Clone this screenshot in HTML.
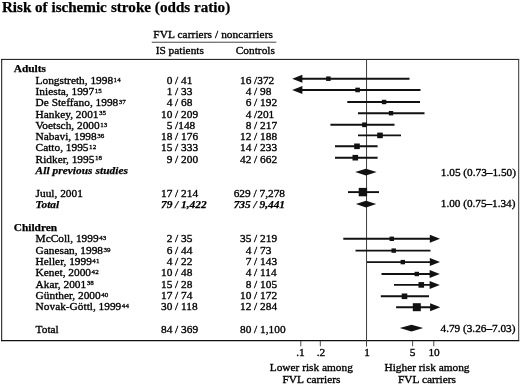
<!DOCTYPE html>
<html lang="en"><head><meta charset="utf-8"><title>Risk of ischemic stroke (odds ratio)</title>
<style>html,body{margin:0;padding:0;background:#fff}svg{display:block;filter:grayscale(1) blur(0.3px)}text{font-family:"Liberation Serif","DejaVu Serif",serif;fill:#000;stroke:#000;stroke-width:0.34px}.b{font-weight:bold;stroke-width:0.25px}.i{font-style:italic}.s{font-size:7px;letter-spacing:0.1px;stroke-width:0.3px}</style></head><body>
<svg width="520" height="384" viewBox="0 0 520 384">
<rect width="520" height="384" fill="#fff"/>
<text y="11.9" class="b" font-size="15.1"><tspan x="1.9" textLength="104.9" lengthAdjust="spacing">Risk of ischemic</tspan><tspan x="110.9" textLength="119.3" lengthAdjust="spacing">stroke (odds ratio)</tspan></text>
<text x="153.3" y="37.6" font-size="11.35" textLength="119.6" lengthAdjust="spacing">FVL carriers / noncarriers</text>
<line x1="151.8" y1="42.25" x2="276.3" y2="42.2" stroke="#333" stroke-width="0.9"/>
<text x="155.7" y="54" font-size="11.35">IS patients</text>
<text x="235.8" y="54" font-size="11.35">Controls</text>
<line x1="1.2" y1="59.4" x2="519.2" y2="59.4" stroke="#111" stroke-width="1"/>
<line x1="1.2" y1="340.7" x2="519.2" y2="340.7" stroke="#111" stroke-width="1.2"/>
<line x1="1.7" y1="59" x2="1.7" y2="341.2" stroke="#111" stroke-width="1"/>
<line x1="518.7" y1="59" x2="518.7" y2="341.2" stroke="#333" stroke-width="1"/>
<line x1="366.55" y1="59.6" x2="366.55" y2="346.5" stroke="#3c3c3c" stroke-width="1"/>
<line x1="300.8" y1="341" x2="300.8" y2="346.3" stroke="#222" stroke-width="0.8"/>
<line x1="320.3" y1="341" x2="320.3" y2="346.3" stroke="#222" stroke-width="0.8"/>
<line x1="412.6" y1="341" x2="412.6" y2="346.3" stroke="#222" stroke-width="0.8"/>
<line x1="433.8" y1="341" x2="433.8" y2="346.3" stroke="#222" stroke-width="0.8"/>
<text x="13.8" y="72.4" class="b" font-size="11.35">Adults</text>
<text x="13.8" y="230.9" class="b" font-size="11.35">Children</text>
<text x="35.6" y="174.0" class="b i" font-size="11.35" textLength="92.3" lengthAdjust="spacing">All previous studies</text>
<text x="35.6" y="207.5" class="b i" font-size="11.35">Total</text>
<text x="172.3" y="207.5" class="b i" font-size="11.35" text-anchor="end">79</text>
<text x="175.1" y="207.5" class="b i" font-size="11.35">/ 1,422</text>
<text x="250.70000000000002" y="207.5" class="b i" font-size="11.35" text-anchor="end">735</text>
<text x="253.5" y="207.5" class="b i" font-size="11.35">/ 9,441</text>
<text x="35.6" y="83.7" font-size="11.35">Longstreth, 1998<tspan class="s" dx="0.5" dy="-2.1">14</tspan></text>
<text x="172.3" y="83.7" font-size="11.35" text-anchor="end">0</text>
<text x="175.1" y="83.7" font-size="11.35">/ 41</text>
<text x="251.3" y="83.7" font-size="11.35" text-anchor="end">16</text>
<text x="254.1" y="83.7" font-size="11.35">/372</text>
<text x="35.6" y="95.1" font-size="11.35">Iniesta, 1997<tspan class="s" dx="0.5" dy="-2.1">15</tspan></text>
<text x="172.3" y="95.1" font-size="11.35" text-anchor="end">1</text>
<text x="175.1" y="95.1" font-size="11.35">/ 33</text>
<text x="251.3" y="95.1" font-size="11.35" text-anchor="end">4</text>
<text x="254.1" y="95.1" font-size="11.35">/ 98</text>
<text x="35.6" y="106.2" font-size="11.35">De Steffano, 1998<tspan class="s" dx="0.5" dy="-2.1">37</tspan></text>
<text x="172.3" y="106.2" font-size="11.35" text-anchor="end">4</text>
<text x="175.1" y="106.2" font-size="11.35">/ 68</text>
<text x="251.3" y="106.2" font-size="11.35" text-anchor="end">6</text>
<text x="254.1" y="106.2" font-size="11.35">/ 192</text>
<text x="35.6" y="117.5" font-size="11.35">Hankey, 2001<tspan class="s" dx="0.5" dy="-2.1">35</tspan></text>
<text x="172.3" y="117.5" font-size="11.35" text-anchor="end">10</text>
<text x="175.1" y="117.5" font-size="11.35">/ 209</text>
<text x="251.3" y="117.5" font-size="11.35" text-anchor="end">4</text>
<text x="254.1" y="117.5" font-size="11.35">/201</text>
<text x="35.6" y="128.7" font-size="11.35">Voetsch, 2000<tspan class="s" dx="0.5" dy="-2.1">13</tspan></text>
<text x="172.3" y="128.7" font-size="11.35" text-anchor="end">5</text>
<text x="175.1" y="128.7" font-size="11.35">/148</text>
<text x="251.3" y="128.7" font-size="11.35" text-anchor="end">8</text>
<text x="254.1" y="128.7" font-size="11.35">/ 217</text>
<text x="35.6" y="140.0" font-size="11.35">Nabavi, 1998<tspan class="s" dx="0.5" dy="-2.1">36</tspan></text>
<text x="172.3" y="140.0" font-size="11.35" text-anchor="end">18</text>
<text x="175.1" y="140.0" font-size="11.35">/ 176</text>
<text x="251.3" y="140.0" font-size="11.35" text-anchor="end">12</text>
<text x="254.1" y="140.0" font-size="11.35">/ 188</text>
<text x="35.6" y="151.3" font-size="11.35">Catto, 1995<tspan class="s" dx="0.5" dy="-2.1">12</tspan></text>
<text x="172.3" y="151.3" font-size="11.35" text-anchor="end">15</text>
<text x="175.1" y="151.3" font-size="11.35">/ 333</text>
<text x="251.3" y="151.3" font-size="11.35" text-anchor="end">14</text>
<text x="254.1" y="151.3" font-size="11.35">/ 233</text>
<text x="35.6" y="162.5" font-size="11.35">Ridker, 1995<tspan class="s" dx="0.5" dy="-2.1">18</tspan></text>
<text x="172.3" y="162.5" font-size="11.35" text-anchor="end">9</text>
<text x="175.1" y="162.5" font-size="11.35">/ 200</text>
<text x="251.3" y="162.5" font-size="11.35" text-anchor="end">42</text>
<text x="254.1" y="162.5" font-size="11.35">/ 662</text>
<text x="35.6" y="196.5" font-size="11.35">Juul, 2001</text>
<text x="172.3" y="196.5" font-size="11.35" text-anchor="end">17</text>
<text x="175.1" y="196.5" font-size="11.35">/ 214</text>
<text x="250.70000000000002" y="196.5" font-size="11.35" text-anchor="end">629</text>
<text x="253.5" y="196.5" font-size="11.35">/ 7,278</text>
<text x="35.6" y="242.2" font-size="11.35">McColl, 1999<tspan class="s" dx="0.5" dy="-2.1">43</tspan></text>
<text x="172.3" y="242.2" font-size="11.35" text-anchor="end">2</text>
<text x="175.1" y="242.2" font-size="11.35">/ 35</text>
<text x="251.3" y="242.2" font-size="11.35" text-anchor="end">35</text>
<text x="254.1" y="242.2" font-size="11.35">/ 219</text>
<text x="35.6" y="253.6" font-size="11.35">Ganesan, 1998<tspan class="s" dx="0.5" dy="-2.1">39</tspan></text>
<text x="172.3" y="253.6" font-size="11.35" text-anchor="end">6</text>
<text x="175.1" y="253.6" font-size="11.35">/ 44</text>
<text x="251.3" y="253.6" font-size="11.35" text-anchor="end">4</text>
<text x="254.1" y="253.6" font-size="11.35">/ 73</text>
<text x="35.6" y="264.9" font-size="11.35">Heller, 1999<tspan class="s" dx="0.5" dy="-2.1">41</tspan></text>
<text x="172.3" y="264.9" font-size="11.35" text-anchor="end">4</text>
<text x="175.1" y="264.9" font-size="11.35">/ 22</text>
<text x="251.3" y="264.9" font-size="11.35" text-anchor="end">7</text>
<text x="254.1" y="264.9" font-size="11.35">/ 143</text>
<text x="35.6" y="276.2" font-size="11.35">Kenet, 2000<tspan class="s" dx="0.5" dy="-2.1">42</tspan></text>
<text x="172.3" y="276.2" font-size="11.35" text-anchor="end">10</text>
<text x="175.1" y="276.2" font-size="11.35">/ 48</text>
<text x="251.3" y="276.2" font-size="11.35" text-anchor="end">4</text>
<text x="254.1" y="276.2" font-size="11.35">/ 114</text>
<text x="35.6" y="287.5" font-size="11.35">Akar, 2001<tspan class="s" dx="0.5" dy="-2.1">38</tspan></text>
<text x="172.3" y="287.5" font-size="11.35" text-anchor="end">15</text>
<text x="175.1" y="287.5" font-size="11.35">/ 28</text>
<text x="251.3" y="287.5" font-size="11.35" text-anchor="end">8</text>
<text x="254.1" y="287.5" font-size="11.35">/ 105</text>
<text x="35.6" y="299.0" font-size="11.35">Günther, 2000<tspan class="s" dx="0.5" dy="-2.1">40</tspan></text>
<text x="172.3" y="299.0" font-size="11.35" text-anchor="end">17</text>
<text x="175.1" y="299.0" font-size="11.35">/ 74</text>
<text x="251.3" y="299.0" font-size="11.35" text-anchor="end">10</text>
<text x="254.1" y="299.0" font-size="11.35">/ 172</text>
<text x="35.6" y="310.3" font-size="11.35">Novak-Göttl, 1999<tspan class="s" dx="0.5" dy="-2.1">44</tspan></text>
<text x="172.3" y="310.3" font-size="11.35" text-anchor="end">30</text>
<text x="175.1" y="310.3" font-size="11.35">/ 118</text>
<text x="251.3" y="310.3" font-size="11.35" text-anchor="end">12</text>
<text x="254.1" y="310.3" font-size="11.35">/ 284</text>
<text x="35.6" y="332.7" font-size="11.35">Total</text>
<text x="172.3" y="332.7" font-size="11.35" text-anchor="end">84</text>
<text x="175.1" y="332.7" font-size="11.35">/ 369</text>
<text x="251.3" y="332.7" font-size="11.35" text-anchor="end">80</text>
<text x="254.1" y="332.7" font-size="11.35">/ 1,100</text>
<text x="440.8" y="175.9" font-size="11.28">1.05 (0.73–1.50)</text>
<text x="440.8" y="206.9" font-size="11.2">1.00 (0.75–1.34)</text>
<text x="440.5" y="332.1" font-size="11.25">4.79 (3.26–7.03)</text>
<text x="300.4" y="355.7" font-size="11.35" text-anchor="middle">.1</text>
<text x="320.9" y="355.7" font-size="11.35" text-anchor="middle">.2</text>
<text x="367" y="355.7" font-size="11.35" text-anchor="middle">1</text>
<text x="412.6" y="355.7" font-size="11.35" text-anchor="middle">5</text>
<text x="434.1" y="355.7" font-size="11.35" text-anchor="middle">10</text>
<text x="311.3" y="370.8" font-size="11.35" text-anchor="middle">Lower risk among</text>
<text x="311.5" y="382.5" font-size="11.35" text-anchor="middle">FVL carriers</text>
<text x="427" y="370.8" font-size="11.35" text-anchor="middle">Higher risk among</text>
<text x="427" y="382.5" font-size="11.35" text-anchor="middle">FVL carriers</text>
<line x1="298.2" y1="78.7" x2="409.5" y2="78.7" stroke="#111" stroke-width="1.9"/>
<polygon points="292.2,78.7 302.4,74.7 302.4,82.7" fill="#111"/>
<rect x="326.15" y="76.45" width="4.5" height="4.5" fill="#111"/>
<line x1="298.2" y1="89.95" x2="420.5" y2="89.95" stroke="#111" stroke-width="1.9"/>
<polygon points="292.2,89.95 302.4,85.95 302.4,93.95" fill="#111"/>
<rect x="355.3" y="87.65" width="4.6" height="4.6" fill="#111"/>
<line x1="347.3" y1="102.0" x2="420" y2="102.0" stroke="#111" stroke-width="1.9"/>
<rect x="381.90000000000003" y="99.8" width="4.4" height="4.4" fill="#111"/>
<line x1="358" y1="113.2" x2="424.5" y2="113.2" stroke="#111" stroke-width="1.9"/>
<rect x="388.8" y="111.0" width="4.4" height="4.4" fill="#111"/>
<line x1="330.4" y1="124.8" x2="394.5" y2="124.8" stroke="#111" stroke-width="1.9"/>
<rect x="362.15" y="122.45" width="4.7" height="4.7" fill="#111"/>
<line x1="358" y1="135.4" x2="401" y2="135.4" stroke="#111" stroke-width="1.9"/>
<rect x="377.2" y="132.6" width="5.6" height="5.6" fill="#111"/>
<line x1="335" y1="146.3" x2="377.6" y2="146.3" stroke="#111" stroke-width="1.9"/>
<rect x="354.2" y="143.5" width="5.6" height="5.6" fill="#111"/>
<line x1="335" y1="157.7" x2="377.6" y2="157.7" stroke="#111" stroke-width="1.9"/>
<rect x="352.5" y="154.89999999999998" width="5.6" height="5.6" fill="#111"/>
<line x1="348" y1="192.1" x2="379" y2="192.1" stroke="#111" stroke-width="1.9"/>
<rect x="358.7" y="187.9" width="8.4" height="8.4" fill="#111"/>
<line x1="343.3" y1="238.8" x2="434" y2="238.8" stroke="#111" stroke-width="1.9"/>
<polygon points="440,238.8 429.8,234.8 429.8,242.8" fill="#111"/>
<rect x="389.6" y="236.60000000000002" width="4.4" height="4.4" fill="#111"/>
<line x1="355.5" y1="250.6" x2="430.5" y2="250.6" stroke="#111" stroke-width="1.9"/>
<rect x="391.5" y="248.4" width="4.4" height="4.4" fill="#111"/>
<line x1="367" y1="262.1" x2="434" y2="262.1" stroke="#111" stroke-width="1.9"/>
<polygon points="440,262.1 429.8,258.1 429.8,266.1" fill="#111"/>
<rect x="400.6" y="259.90000000000003" width="4.4" height="4.4" fill="#111"/>
<line x1="381.5" y1="274.0" x2="433.8" y2="274.0" stroke="#111" stroke-width="1.9"/>
<polygon points="439.8,274.0 429.6,270.0 429.6,278.0" fill="#111"/>
<rect x="414.6" y="271.8" width="4.4" height="4.4" fill="#111"/>
<line x1="394" y1="284.9" x2="433.8" y2="284.9" stroke="#111" stroke-width="1.9"/>
<polygon points="439.8,284.9 429.6,280.9 429.6,288.9" fill="#111"/>
<rect x="418.5" y="282.09999999999997" width="5.6" height="5.6" fill="#111"/>
<line x1="380.8" y1="296.3" x2="429" y2="296.3" stroke="#111" stroke-width="1.9"/>
<rect x="401.7" y="293.5" width="5.6" height="5.6" fill="#111"/>
<line x1="396.1" y1="307.2" x2="434.3" y2="307.2" stroke="#111" stroke-width="1.9"/>
<polygon points="440.3,307.2 430.1,303.2 430.1,311.2" fill="#111"/>
<rect x="412.8" y="303.2" width="8" height="8" fill="#111"/>
<polygon points="355.2,172.1 365.9,168.79999999999998 376.6,172.1 365.9,175.4" fill="#111"/>
<polygon points="355.9,204.1 366.04999999999995,200.79999999999998 376.2,204.1 366.04999999999995,207.4" fill="#111"/>
<polygon points="399.8,328.1 411.5,324.8 423.2,328.1 411.5,331.40000000000003" fill="#111"/>
</svg></body></html>
